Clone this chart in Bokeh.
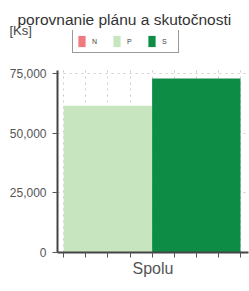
from bokeh.plotting import figure
from bokeh.models import (ColumnDataSource, Range1d, SingleIntervalTicker, NumeralTickFormatter,
                          Legend, LegendItem, FixedTicker)
from bokeh.embed import file_html
from bokeh.resources import INLINE

title_text = "porovnanie plánu a skutočnosti"
unit_label = "[Ks]"
group_label = "Spolu"
categories = ["N", "P", "S"]
values = [0, 61500, 72900]
colors = ["#ee7a7e", "#c7e6c0", "#0d8c46"]
y_ticks = [0, 25000, 50000, 75000]

axis_top = 76250
frame_h = 222
axis_h = 182

src = ColumnDataSource(dict(
    x=[i + 0.5 for i in range(len(categories))],
    top=values,
    color=colors,
    cat=categories,
))

p = figure(frame_width=191, frame_height=frame_h, output_backend="svg", toolbar_location=None,
           x_range=Range1d(0.93, 3.09), y_range=Range1d(0, axis_top * frame_h / axis_h),
           min_border_left=57, min_border_right=1, min_border_bottom=39, min_border_top=30,
           title=title_text)
p.outline_line_color = None
p.title.align = "left"
p.title.offset = -40
p.title.text_font_style = "normal"
p.title.text_font_size = "15.5px"
p.title.text_color = "#333333"
p.title.text_font = "Liberation Sans"
p.title.standoff = 6

r = p.vbar(x="x", top="top", width=1.0, color="color", line_color=None, source=src)

legend = Legend(items=[LegendItem(label=c, renderers=[r], index=i) for i, c in enumerate(categories)],
                orientation="horizontal", location=(15, 199),
                glyph_width=9, glyph_height=14, label_text_font_size="7px",
                label_text_color="#444", label_standoff=6, spacing=8, padding=4, margin=0,
                label_width=12, label_height=14,
                border_line_color="#333", border_line_width=1.5)
p.add_layout(legend)

p.xaxis.ticker = SingleIntervalTicker(interval=0.25, num_minor_ticks=0)
p.xaxis.major_label_text_font_size = "0px"
p.xaxis.axis_label = group_label
p.xaxis.axis_label_text_font_style = "normal"
p.xaxis.axis_label_text_font_size = "16px"
p.xaxis.axis_label_text_color = "#555"
p.xaxis.axis_label_text_font = "Liberation Sans"
p.xaxis.axis_label_standoff = 2

p.yaxis.ticker = FixedTicker(ticks=y_ticks)
p.yaxis.formatter = NumeralTickFormatter(format="0,0")
p.yaxis.major_label_text_font_size = "12px"
p.yaxis.major_label_text_color = "#555"
p.yaxis.major_label_text_font = "Liberation Sans"
p.yaxis.major_label_standoff = 6
p.yaxis.minor_tick_line_color = None
p.yaxis.bounds = (0, axis_top)
p.yaxis.axis_label = unit_label
p.yaxis.axis_label_orientation = "horizontal"
p.yaxis.axis_label_align = "end"
p.yaxis.axis_label_standoff = -25
p.yaxis.axis_label_text_font_size = "13px"
p.yaxis.axis_label_text_font_style = "normal"
p.yaxis.axis_label_text_color = "#444"
p.yaxis.axis_label_text_font = "Liberation Sans"

for ax in (p.xaxis, p.yaxis):
    ax.axis_line_color = "#444"
    ax.axis_line_width = 2
    ax.major_tick_line_color = "#555"
    ax.major_tick_in = 0
    ax.major_tick_out = 5

p.xgrid.grid_line_dash = "dotted"
p.ygrid.grid_line_dash = "dotted"
p.xgrid.grid_line_color = "#cccccc"
p.ygrid.grid_line_color = "#cccccc"
p.xgrid.cross_bounds = (0, axis_top)

open("out.html", "w").write(file_html(p, INLINE))
